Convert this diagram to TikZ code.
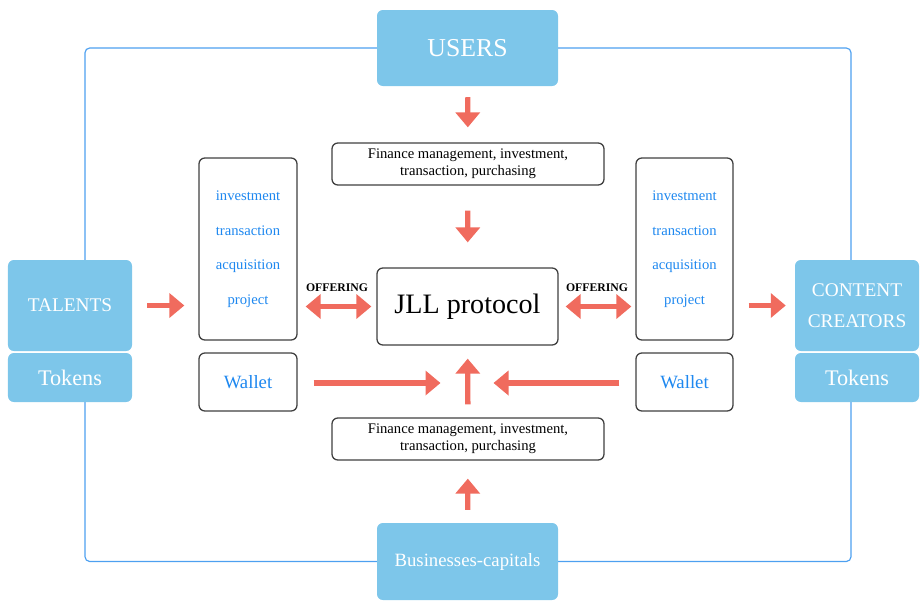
\documentclass[tikz,border=0pt]{standalone}
\usepackage{fontspec}
\setmainfont{Liberation Serif}
\usepackage{tikz}
\usetikzlibrary{positioning, arrows.meta, calc, backgrounds}
\definecolor{actorblue}{RGB}{125, 198, 234}
\definecolor{ringblue}{RGB}{77, 160, 240}
\definecolor{itemblue}{RGB}{30, 136, 240}
\definecolor{flowred}{RGB}{240, 107, 94}
\definecolor{edgegray}{RGB}{64, 64, 64}

\tikzset{
  actor/.style={fill=actorblue, draw=none, rounded corners=5pt, text=white,
                align=center, inner sep=0pt},
  plainbox/.style={draw=edgegray, line width=1.1pt, fill=white,
                   rounded corners=5pt, align=center, inner sep=0pt},
  flow/.style={draw=flowred, line width=4.5pt,
               -{Triangle[width=0.72cm, length=0.45cm]}},
  twoway/.style={flow, {Triangle[width=0.72cm, length=0.45cm]}-{Triangle[width=0.72cm, length=0.45cm]}},
  ring/.style={draw=ringblue, line width=1pt, rounded corners=4pt},
}

\begin{document}
\begin{tikzpicture}[x=0.03cm, y=-0.03cm]
        \useasboundingbox (0,0) rectangle (921,602);
        % outer actors
        \node[actor, minimum width=5.43cm, minimum height=2.28cm,
              font=\fontsize{22}{26}\selectfont] (users) at (467.5,48) {USERS};
        \node[actor, minimum width=5.43cm, minimum height=2.31cm,
              font=\fontsize{16}{19}\selectfont] (business) at (467.5,561.5) {Businesses-capitals};
        \node[actor, minimum width=3.72cm, minimum height=2.73cm,
              font=\fontsize{16.5}{26}\selectfont] (talents) at (70,305.5) {TALENTS};
        \node[actor, minimum width=3.72cm, minimum height=1.47cm,
              font=\fontsize{19}{22}\selectfont] (tokensL) at (70,377.5) {Tokens};
        \node[actor, minimum width=3.72cm, minimum height=2.73cm,
              font=\fontsize{16.5}{26}\selectfont] (content) at (857,305.5) {CONTENT\\CREATORS};
        \node[actor, minimum width=3.72cm, minimum height=1.47cm,
              font=\fontsize{19}{22}\selectfont] (tokensR) at (857,377.5) {Tokens};
        % inner boxes
        \node[plainbox, minimum width=8.16cm, minimum height=1.26cm,
              font=\fontsize{12.5}{14.5}\selectfont] (fintop) at (468,164)
              {Finance management, investment,\\transaction, purchasing};
        \node[plainbox, minimum width=8.16cm, minimum height=1.26cm,
              font=\fontsize{12.5}{14.5}\selectfont] (finbot) at (468,439)
              {Finance management, investment,\\transaction, purchasing};
        \node[plainbox, minimum width=5.43cm, minimum height=2.31cm,
              font=\fontsize{24}{28}\selectfont] (jll) at (467.5,306.5) {JLL protocol};
        \node[plainbox, minimum width=2.94cm, minimum height=5.46cm, text=itemblue,
              font=\fontsize{12.5}{29.5}\selectfont] (listL) at (248,249)
              {investment\\transaction\\acquisition\\project};
        \node[plainbox, minimum width=2.91cm, minimum height=5.46cm, text=itemblue,
              font=\fontsize{12.5}{29.5}\selectfont] (listR) at (684.5,249)
              {investment\\transaction\\acquisition\\project};
        \node[plainbox, minimum width=2.94cm, minimum height=1.74cm, text=itemblue,
              font=\fontsize{16}{19}\selectfont] (walletL) at (248,382) {Wallet};
        \node[plainbox, minimum width=2.91cm, minimum height=1.74cm, text=itemblue,
              font=\fontsize{16}{19}\selectfont] (walletR) at (684.5,382) {Wallet};
        \coordinate (hub) at (466.5,383);
        % blue ring behind everything
        \begin{scope}[on background layer]
          \draw[ring] ([xshift=0.45cm]talents.north) |- (users.west);
          \draw[ring] (users.east) -| ([xshift=-0.18cm]content.north);
          \draw[ring] ([xshift=0.45cm]tokensL.south) |- (business.west);
          \draw[ring] (business.east) -| ([xshift=-0.18cm]tokensR.south);
        \end{scope}
        % flows
        \draw[flow, shorten <=0.33cm, shorten >=0.45cm] (users) -- (fintop);
        \draw[flow, shorten <=0.75cm, shorten >=0.75cm] (fintop) -- (jll);
        \draw[flow, shorten <=0.39cm, shorten >=0.54cm] (business) -- (finbot);
        \draw[flow, shorten <=0.39cm, shorten >=0.39cm] (finbot) -- (jll);
        \draw[flow, shorten <=0.48cm, shorten >=0.78cm] (walletL.east |- hub) -- (hub);
        \draw[flow, shorten <=0.48cm, shorten >=0.81cm] (walletR.west |- hub) -- (hub);
        \draw[flow, shorten <=0.45cm, shorten >=0.42cm] (talents.east) -- (listL.west |- talents.east);
        \draw[flow, shorten <=0.45cm, shorten >=0.27cm] (listR.east |- content.west) -- (content.west);
        \draw[twoway, shorten <=0.24cm, shorten >=0.15cm] (listL.east |- jll.west) -- (jll.west)
              node[midway, above=7pt, font=\fontsize{10}{12}\selectfont\bfseries] {OFFERING};
        \draw[twoway, shorten <=0.21cm, shorten >=0.12cm] (jll.east) -- (listR.west |- jll.east)
              node[midway, above=7pt, font=\fontsize{10}{12}\selectfont\bfseries] {OFFERING};
      \end{tikzpicture}
\end{document}
